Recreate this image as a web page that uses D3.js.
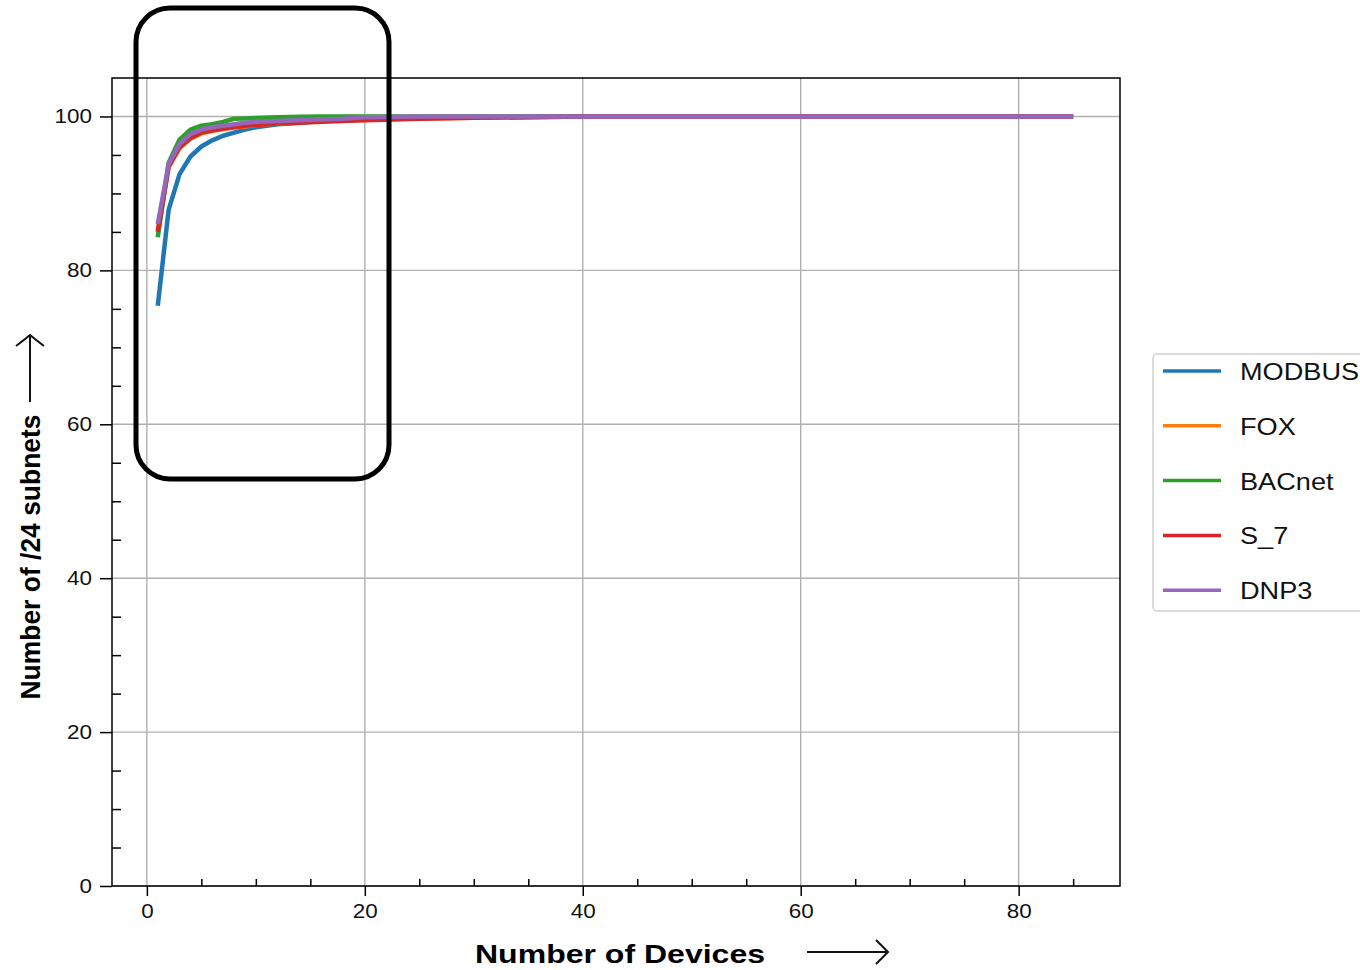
<!DOCTYPE html>
<html>
<head>
<meta charset="utf-8">
<script src="https://cdn.jsdelivr.net/npm/d3@7"></script>
<style>
  body { margin: 0; background: #fff; }
  text { font-family: "Liberation Sans", Arial, Helvetica, sans-serif; }
</style>
</head>
<body>
<script>
// number of devices per /24 subnet (x) and cumulative % of subnets (y)
const devices = [1, 2, 3, 4, 5, 6, 7, 8, 9, 10, 12, 14, 16, 18, 20, 25, 30, 35, 40, 50, 60, 70, 85];
const modbus = [75.4, 87.9, 92.5, 94.8, 96.1, 96.9, 97.5, 97.9, 98.3, 98.6, 99.0, 99.2, 99.4, 99.5, 99.6, 99.8, 99.9, 99.95, 100, 100, 100, 100, 100];
const fox    = [85.2, 93.4, 95.9, 97.1, 97.8, 98.1, 98.4, 98.6, 98.7, 98.9, 99.1, 99.3, 99.4, 99.5, 99.6, 99.75, 99.85, 99.9, 100, 100, 100, 100, 100];
const bacnet = [84.3, 94.0, 97.0, 98.3, 98.8, 99.0, 99.3, 99.7, 99.75, 99.8, 99.9, 99.95, 100, 100, 100, 100, 100, 100, 100, 100, 100, 100, 100];
const s7     = [85.0, 93.5, 96.0, 97.2, 97.9, 98.2, 98.4, 98.6, 98.8, 98.9, 99.1, 99.2, 99.3, 99.4, 99.5, 99.7, 99.85, 99.9, 100, 100, 100, 100, 100];
const dnp3   = [86.0, 93.8, 96.4, 97.7, 98.3, 98.6, 98.8, 99.0, 99.2, 99.3, 99.4, 99.5, 99.6, 99.7, 99.9, 100, 100, 100, 100, 100, 100, 100, 100];

const protocols = ["MODBUS", "FOX", "BACnet", "S_7", "DNP3"];
const values = [modbus, fox, bacnet, s7, dnp3];
const colors = ["#1f77b4", "#ff7f0e", "#2ca02c", "#d62728", "#9467bd"];

const xMajor = [0, 20, 40, 60, 80];
const yMajor = [0, 20, 40, 60, 80, 100];
const xMinor = d3.range(5, 90, 5).filter(d => d % 20 !== 0);
const yMinor = d3.range(5, 105, 5).filter(d => d % 20 !== 0);

const W = 1360, H = 970;
const pLeft = 112, pRight = 1120, pTop = 78, pBottom = 886;

const svg = d3.select("body").append("svg")
    .attr("width", W)
    .attr("height", H);

const x = d3.scaleLinear().domain([-3.2, 89.3]).range([pLeft, pRight]);
const y = d3.scaleLinear().domain([0, 105]).range([pBottom, pTop]);

// stretch text horizontally like the original picture
function stretch(sel, k) {
    sel.each(function () {
        let w = this.getComputedTextLength();
        d3.select(this).attr("textLength", w * k).attr("lengthAdjust", "spacingAndGlyphs");
    });
}

// grid
svg.append("g")
    .selectAll("line")
    .data(xMajor)
    .join("line")
    .attr("x1", d => x(d)).attr("x2", d => x(d))
    .attr("y1", pTop).attr("y2", pBottom)
    .attr("stroke", "#b0b0b0").attr("stroke-width", 1.4);
svg.append("g")
    .selectAll("line")
    .data(yMajor)
    .join("line")
    .attr("x1", pLeft).attr("x2", pRight)
    .attr("y1", d => y(d)).attr("y2", d => y(d))
    .attr("stroke", "#b0b0b0").attr("stroke-width", 1.4);

// lines
svg.append("clipPath").attr("id", "clip")
    .append("rect").attr("x", pLeft).attr("y", pTop)
    .attr("width", pRight - pLeft).attr("height", pBottom - pTop);

let line = d3.line()
    .x((d, i) => x(devices[i]))
    .y(d => y(d));

svg.append("g")
    .attr("clip-path", "url(#clip)")
    .selectAll("path")
    .data(values)
    .join("path")
    .attr("d", d => line(d))
    .attr("fill", "none")
    .attr("stroke", (d, i) => colors[i])
    .attr("stroke-width", 4.5)
    .attr("stroke-linejoin", "round");

// frame
svg.append("rect")
    .attr("x", pLeft).attr("y", pTop)
    .attr("width", pRight - pLeft).attr("height", pBottom - pTop)
    .attr("fill", "none").attr("stroke", "#000").attr("stroke-width", 1.5);

// x axis
let xAxis = svg.append("g")
    .attr("transform", "translate(0," + pBottom + ")")
    .call(d3.axisBottom(x).tickValues(xMajor).tickSize(10).tickPadding(8));
svg.append("g")
    .attr("transform", "translate(0," + pBottom + ")")
    .call(d3.axisBottom(x).tickValues(xMinor).tickSize(-7).tickFormat(""));

// y axis
let yAxis = svg.append("g")
    .attr("transform", "translate(" + pLeft + ",0)")
    .call(d3.axisLeft(y).tickValues(yMajor).tickSize(12).tickPadding(8));
svg.append("g")
    .attr("transform", "translate(" + pLeft + ",0)")
    .call(d3.axisLeft(y).tickValues(yMinor).tickSize(-9).tickFormat(""));

svg.selectAll(".domain").remove();
svg.selectAll(".tick line").attr("stroke", "#000").attr("stroke-width", 1.5);
svg.selectAll(".tick text")
    .attr("font-family", "Liberation Sans, Arial, sans-serif")
    .attr("font-size", 19.5)
    .attr("fill", "#111");
stretch(xAxis.selectAll(".tick text"), 1.15);
stretch(yAxis.selectAll(".tick text"), 1.15);

// axis titles
let xt = svg.append("text")
    .attr("x", 620).attr("y", 963)
    .attr("text-anchor", "middle")
    .attr("font-size", 25).attr("font-weight", "bold")
    .text("Number of Devices");
xt.attr("textLength", 290).attr("lengthAdjust", "spacingAndGlyphs");

let yt = svg.append("text")
    .attr("transform", "translate(40,557) rotate(-90)")
    .attr("text-anchor", "middle")
    .attr("font-size", 27).attr("font-weight", "bold")
    .text("Number of /24 subnets");
yt.attr("textLength", 285).attr("lengthAdjust", "spacingAndGlyphs");

// arrows next to the titles
svg.append("path")
    .attr("d", "M807,952 L888,952 M876,940 Q883,947 888,952 Q883,957 876,964")
    .attr("fill", "none").attr("stroke", "#111").attr("stroke-width", 2);
svg.append("path")
    .attr("d", "M30,402 L30,335 M16,346 Q24,340 30,335 Q36,340 44,346")
    .attr("fill", "none").attr("stroke", "#111").attr("stroke-width", 2);

// legend
let legend = svg.append("g");
legend.append("rect")
    .attr("x", 1153).attr("y", 354)
    .attr("width", 230).attr("height", 257)
    .attr("rx", 4)
    .attr("fill", "#fff").attr("stroke", "#d0d0d0").attr("stroke-width", 1.5);
let items = legend.selectAll("g.item")
    .data(protocols)
    .join("g")
    .attr("class", "item")
    .attr("transform", (d, i) => "translate(0," + (371 + i * 54.8) + ")");
items.append("line")
    .attr("x1", 1163).attr("x2", 1221)
    .attr("stroke", (d, i) => colors[i])
    .attr("stroke-width", 3.5);
let lt = items.append("text")
    .attr("x", 1240).attr("y", 9)
    .attr("font-size", 23)
    .attr("fill", "#111")
    .text(d => d);
stretch(lt, 1.18);

// highlight box around the steep part
svg.append("rect")
    .attr("x", 136).attr("y", 8)
    .attr("width", 253).attr("height", 471)
    .attr("rx", 34)
    .attr("fill", "none").attr("stroke", "#000").attr("stroke-width", 5);
</script>
</body>
</html>
